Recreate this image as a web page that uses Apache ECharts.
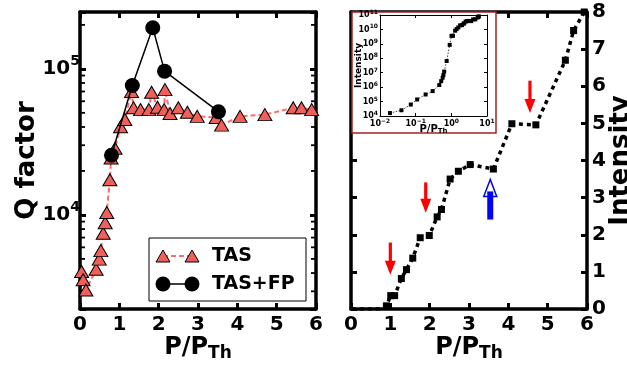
<!DOCTYPE html>
<html>
<head>
<meta charset="utf-8">
<script src="https://cdn.jsdelivr.net/npm/echarts@6/dist/echarts.min.js"></script>
<style>
  html, body { margin: 0; padding: 0; background: #fff; }
  #chart { width: 627px; height: 365px; }
</style>
</head>
<body>
<div id="chart"></div>
<script>
// ---- data ----------------------------------------------------------
// Left panel: Q factor versus normalised pump power
const tasPower = [0.04, 0.08, 0.15, 0.41, 0.49, 0.53, 0.59, 0.64, 0.68, 0.76, 0.79, 0.89,
                  1.03, 1.14, 1.31, 1.36, 1.54, 1.75, 1.82, 1.97, 2.14, 2.16, 2.29, 2.50,
                  2.73, 2.98, 3.46, 3.60, 4.07, 4.70, 5.42, 5.63, 5.89];
const tasQ = [4100, 3600, 3060, 4250, 4980, 5700, 7500, 8850, 10400, 17400, 24500, 28600,
              40100, 45000, 70000, 54100, 52600, 52600, 69200, 54600, 52600, 72100, 49500, 54100,
              50500, 47300, 46500, 41200, 47300, 48600, 54100, 54100, 52600];
const fpPower = [0.80, 1.33, 1.85, 2.15, 3.52];
const fpQ = [25600, 76900, 191000, 96400, 50900];

// Right panel: output intensity (in units of 1e10) versus normalised pump power
const satPower = [0.019, 0.04, 0.073, 0.11, 0.19, 0.30, 0.46, 0.52, 0.57, 0.60, 0.63, 0.74,
                  0.90, 1.01, 1.11, 1.28, 1.41, 1.57, 1.76, 1.99, 2.19, 2.30, 2.52, 2.73,
                  3.03, 3.62, 4.09, 4.70, 5.45, 5.66, 5.93];
const satIntensity = [1.6e-6, 2.5e-6, 6.2e-6, 1.4e-5, 3.1e-5, 5.3e-5, 1.4e-4, 2.6e-4, 4.5e-4, 6.9e-4, 1.2e-3, 6.5e-3,
                      0.085, 0.36, 0.36, 0.82, 1.06, 1.37, 1.92, 1.98, 2.48, 2.68, 3.50, 3.71,
                      3.89, 3.77, 4.99, 4.96, 6.70, 7.50, 8.00];
const intensityUnit = 1e10;

// Annotation arrows: [power, tail level, head level]
const redArrows = [[1.00, 1.79, 0.92], [1.90, 3.41, 2.59], [4.55, 6.15, 5.28]];
const blueArrows = [[3.54, 2.41, 3.49]];

// Axis ranges / ticks
const powerTicks = [0, 1, 2, 3, 4, 5, 6];
const qRange = [2270, 245000];
const intensityRange = [0, 8];
const insetPowerRange = [0.01, 10];
const insetIntensityRange = [1e4, 1e11];

// ---- helpers -------------------------------------------------------
const FONT = 'DejaVu Sans';
const zip = (xs, ys) => xs.map((x, i) => [x, ys[i]]);

function powLabel(v) {
  const e = Math.log10(v);
  const r = Math.round(e);
  if (Math.abs(e - r) > 1e-6) return '';
  return '{b|10}{s|' + (r < 0 ? '\u2212' + (-r) : r) + '}';
}

// log-axis minor tick values (2..9 x decade) inside a range
function minorLogTicks(range) {
  const out = [];
  for (let d = Math.floor(Math.log10(range[0])); d <= Math.ceil(Math.log10(range[1])); d++) {
    for (let m = 2; m <= 9; m++) {
      const v = m * Math.pow(10, d);
      if (v > range[0] && v < range[1]) out.push(v);
    }
  }
  return out;
}

const frameLine = { show: true, onZero: false, lineStyle: { color: '#000', width: 3.5 } };
const thinLine = { show: true, onZero: false, lineStyle: { color: '#000', width: 1 } };
const bigTick = { show: true, inside: true, length: 6, lineStyle: { color: '#000', width: 3 } };
const smallTick = { show: true, inside: true, length: 3, lineStyle: { color: '#000', width: 1 } };
const noLabel = { show: false };
const bigLabel = { fontFamily: FONT, fontWeight: 'bold', fontSize: 20, color: '#000' };

const pRich = (m, s, lh) => ({
  fontFamily: FONT, fontWeight: 'bold', color: '#000',
  rich: {
    m: { fontFamily: FONT, fontWeight: 'bold', fontSize: m, lineHeight: lh, color: '#000' },
    s: { fontFamily: FONT, fontWeight: 'bold', fontSize: s, lineHeight: s, verticalAlign: 'bottom', color: '#000' }
  }
});
const supRich = (b, s, lh) => ({
  b: { fontFamily: FONT, fontWeight: 'bold', fontSize: b, lineHeight: lh, color: '#000' },
  s: { fontFamily: FONT, fontWeight: 'bold', fontSize: s, lineHeight: s, verticalAlign: 'top', color: '#000' }
});

function valueX(grid, pos, withLabel) {
  return {
    gridIndex: grid, type: 'value', position: pos,
    min: powerTicks[0], max: powerTicks[powerTicks.length - 1], interval: 1,
    axisLine: frameLine, axisTick: bigTick, splitLine: { show: false },
    axisLabel: withLabel ? Object.assign({ margin: 6 }, bigLabel) : noLabel,
    name: withLabel ? '{m|P/P}{s|Th}' : '', nameLocation: 'middle', nameGap: 24,
    nameMoveOverlap: false,
    nameTextStyle: pRich(24, 17, 29)
  };
}

// ---- chart ---------------------------------------------------------
const chart = echarts.init(document.getElementById('chart'), null, { renderer: 'canvas' });

const qMinor = minorLogTicks(qRange);

const option = {
  animation: false,
  backgroundColor: '#fff',
  textStyle: { fontFamily: FONT },
  grid: [
    { left: 80, top: 12, width: 236, height: 297, outerBoundsMode: 'none', containLabel: false },
    { left: 351, top: 12, width: 236, height: 297, outerBoundsMode: 'none', containLabel: false },
    { left: 380, top: 15, width: 107, height: 101, outerBoundsMode: 'none', containLabel: false }
  ],
  xAxis: [
    valueX(0, 'bottom', true),
    valueX(0, 'top', false),
    valueX(1, 'bottom', true),
    valueX(1, 'top', false),
    {
      gridIndex: 2, type: 'log', logBase: 10, position: 'bottom', z: 10,
      min: insetPowerRange[0], max: insetPowerRange[1],
      axisLine: thinLine, axisTick: smallTick, splitLine: { show: false },
      axisLabel: { margin: 2, formatter: powLabel, rich: supRich(8, 6, 11) },
      name: '{m|P/P}{s|Th}', nameLocation: 'middle', nameGap: 7, nameMoveOverlap: false,
      nameTextStyle: pRich(10, 7, 12)
    },
    {
      gridIndex: 2, type: 'log', logBase: 10, position: 'top', z: 10,
      min: insetPowerRange[0], max: insetPowerRange[1],
      axisLine: thinLine, axisTick: smallTick, splitLine: { show: false }, axisLabel: noLabel
    }
  ],
  yAxis: [
    {
      gridIndex: 0, type: 'log', logBase: 10, position: 'left',
      min: qRange[0], max: qRange[1],
      axisLine: frameLine, axisTick: bigTick, splitLine: { show: false },
      axisLabel: { margin: 0, formatter: powLabel, rich: supRich(20, 14, 29) },
      name: 'Q factor', nameLocation: 'middle', nameGap: 40, nameMoveOverlap: false,
      nameTextStyle: { fontFamily: FONT, fontWeight: 'bold', fontSize: 26, color: '#000' }
    },
    {
      gridIndex: 0, type: 'log', logBase: 10, position: 'right',
      min: qRange[0], max: qRange[1],
      axisLine: frameLine, axisTick: bigTick, splitLine: { show: false }, axisLabel: noLabel
    },
    {
      gridIndex: 1, type: 'value', position: 'left',
      min: intensityRange[0], max: intensityRange[1], interval: 1,
      axisLine: frameLine, axisTick: bigTick, splitLine: { show: false }, axisLabel: noLabel
    },
    {
      gridIndex: 1, type: 'value', position: 'right',
      min: intensityRange[0], max: intensityRange[1], interval: 1,
      axisLine: frameLine, axisTick: bigTick, splitLine: { show: false },
      axisLabel: Object.assign({ margin: 5 }, bigLabel),
      name: 'Intensity', nameLocation: 'middle', nameGap: 21, nameRotate: 90, nameMoveOverlap: false,
      nameTextStyle: { fontFamily: FONT, fontWeight: 'bold', fontSize: 26, color: '#000' }
    },
    {
      gridIndex: 2, type: 'log', logBase: 10, position: 'left', z: 10,
      min: insetIntensityRange[0], max: insetIntensityRange[1],
      axisLine: thinLine, axisTick: smallTick, splitLine: { show: false },
      axisLabel: { margin: 2, formatter: powLabel, rich: supRich(8, 6, 11) },
      name: 'Intensity', nameLocation: 'middle', nameGap: 17, nameMoveOverlap: false,
      nameTextStyle: { fontFamily: FONT, fontWeight: 'bold', fontSize: 9, color: '#000' }
    },
    {
      gridIndex: 2, type: 'log', logBase: 10, position: 'right', z: 10,
      min: insetIntensityRange[0], max: insetIntensityRange[1],
      axisLine: thinLine, axisTick: smallTick, splitLine: { show: false }, axisLabel: noLabel
    }
  ],
  series: [
    {
      name: 'TAS', type: 'line', xAxisIndex: 0, yAxisIndex: 0, z: 3,
      data: zip(tasPower, tasQ),
      symbol: 'triangle', symbolSize: [14, 12],
      itemStyle: { color: '#f0605a', borderColor: '#000', borderWidth: 1 },
      lineStyle: { color: '#ff6b6b', width: 2, type: [5, 3] }
    },
    {
      name: 'TAS+FP', type: 'line', xAxisIndex: 0, yAxisIndex: 0, z: 4,
      data: zip(fpPower, fpQ),
      symbol: 'circle', symbolSize: 15,
      itemStyle: { color: '#000' },
      lineStyle: { color: '#000', width: 1.5 }
    },
    {
      // log minor ticks on both vertical frames of the Q-factor panel
      type: 'custom', xAxisIndex: 0, yAxisIndex: 0, z: 3, silent: true,
      data: qMinor.map(v => [0, v]),
      renderItem(params, api) {
        const v = api.value(1);
        const a = api.coord([powerTicks[0], v]);
        const b = api.coord([powerTicks[powerTicks.length - 1], v]);
        const st = { stroke: '#000', lineWidth: 1.8 };
        return {
          type: 'group', children: [
            { type: 'line', shape: { x1: a[0], y1: a[1], x2: a[0] + 5, y2: a[1] }, style: st },
            { type: 'line', shape: { x1: b[0], y1: b[1], x2: b[0] - 5, y2: b[1] }, style: st }
          ]
        };
      }
    },
    {
      name: 'Intensity', type: 'line', xAxisIndex: 2, yAxisIndex: 3, z: 3,
      data: zip(satPower, satIntensity),
      symbol: 'rect',
      symbolSize: (v) => (v[1] < 0.01 ? 0 : 7),
      itemStyle: { color: '#000' },
      lineStyle: { color: '#000', width: 3.5, type: [4, 4], cap: 'butt' }
    },
    {
      // red arrows pointing down onto the curve
      type: 'custom', xAxisIndex: 2, yAxisIndex: 3, z: 4, silent: true,
      data: redArrows,
      encode: { x: 0, y: [1, 2] },
      renderItem(params, api) {
        const x = api.value(0);
        const pt = api.coord([x, api.value(1)]);
        const ph = api.coord([x, api.value(2)]);
        const dir = ph[1] > pt[1] ? 1 : -1;
        const headLen = 14, headW = 5.5, shaftW = 1.6;
        const base = ph[1] - dir * headLen;
        return {
          type: 'group', children: [
            { type: 'rect', shape: { x: pt[0] - shaftW, y: Math.min(pt[1], base), width: 2 * shaftW, height: Math.abs(base - pt[1]) + 1 },
              style: { fill: '#ff0000' } },
            { type: 'polygon', shape: { points: [[ph[0], ph[1]], [ph[0] - headW, base], [ph[0] + headW, base]] },
              style: { fill: '#ff0000' } }
          ]
        };
      }
    },
    {
      // blue arrow with open head
      type: 'custom', xAxisIndex: 2, yAxisIndex: 3, z: 4, silent: true,
      data: blueArrows,
      encode: { x: 0, y: [1, 2] },
      renderItem(params, api) {
        const x = api.value(0);
        const pt = api.coord([x, api.value(1)]);
        const ph = api.coord([x, api.value(2)]);
        const dir = ph[1] > pt[1] ? 1 : -1;
        const headLen = 17, headW = 6.5, shaftW = 3;
        const base = ph[1] - dir * headLen;
        const inner = base + dir * 5;
        return {
          type: 'group', children: [
            { type: 'polygon', shape: { points: [[ph[0], ph[1]], [ph[0] - headW, base], [ph[0] + headW, base]] },
              style: { fill: '#fff', stroke: '#0000ff', lineWidth: 1.5 } },
            { type: 'rect', shape: { x: pt[0] - shaftW, y: Math.min(pt[1], inner), width: 2 * shaftW, height: Math.abs(inner - pt[1]) },
              style: { fill: '#0000ff' } }
          ]
        };
      }
    },
    {
      name: 'Intensity (log)', type: 'line', xAxisIndex: 4, yAxisIndex: 4, z: 12,
      data: satPower.map((p, i) => [p, satIntensity[i] * intensityUnit]),
      symbol: 'rect', symbolSize: 4,
      itemStyle: { color: '#000' },
      lineStyle: { color: '#444', width: 1, type: [1.5, 1.5] }
    }
  ],
  graphic: [
    // inset frame
    {
      type: 'rect', z: 5, silent: true,
      shape: { x: 352, y: 12, width: 144, height: 121 },
      style: { fill: '#fff', stroke: '#a52222', lineWidth: 1.5 }
    },
    // legend of the Q-factor panel
    {
      type: 'group', z: 20, silent: true,
      children: [
        { type: 'rect', shape: { x: 149, y: 238, width: 157, height: 63 },
          style: { fill: '#fff', stroke: '#000', lineWidth: 1 } },
        { type: 'line', shape: { x1: 163, y1: 256, x2: 192, y2: 256 },
          style: { stroke: '#ff6b6b', lineWidth: 2, lineDash: [5, 3] } },
        { type: 'polygon', shape: { points: [[163, 250], [156, 262], [170, 262]] },
          style: { fill: '#f0605a', stroke: '#000', lineWidth: 1 } },
        { type: 'polygon', shape: { points: [[192, 250], [185, 262], [199, 262]] },
          style: { fill: '#f0605a', stroke: '#000', lineWidth: 1 } },
        { type: 'text', x: 212, y: 256,
          style: { text: 'TAS', font: 'bold 19px "DejaVu Sans"', fill: '#000', verticalAlign: 'middle' } },
        { type: 'line', shape: { x1: 163, y1: 284, x2: 192, y2: 284 },
          style: { stroke: '#000', lineWidth: 1.5 } },
        { type: 'circle', shape: { cx: 163, cy: 284, r: 7.5 }, style: { fill: '#000' } },
        { type: 'circle', shape: { cx: 192, cy: 284, r: 7.5 }, style: { fill: '#000' } },
        { type: 'text', x: 212, y: 284,
          style: { text: 'TAS+FP', font: 'bold 19px "DejaVu Sans"', fill: '#000', verticalAlign: 'middle' } }
      ]
    }
  ]
};

chart.setOption(option);
</script>
</body>
</html>
